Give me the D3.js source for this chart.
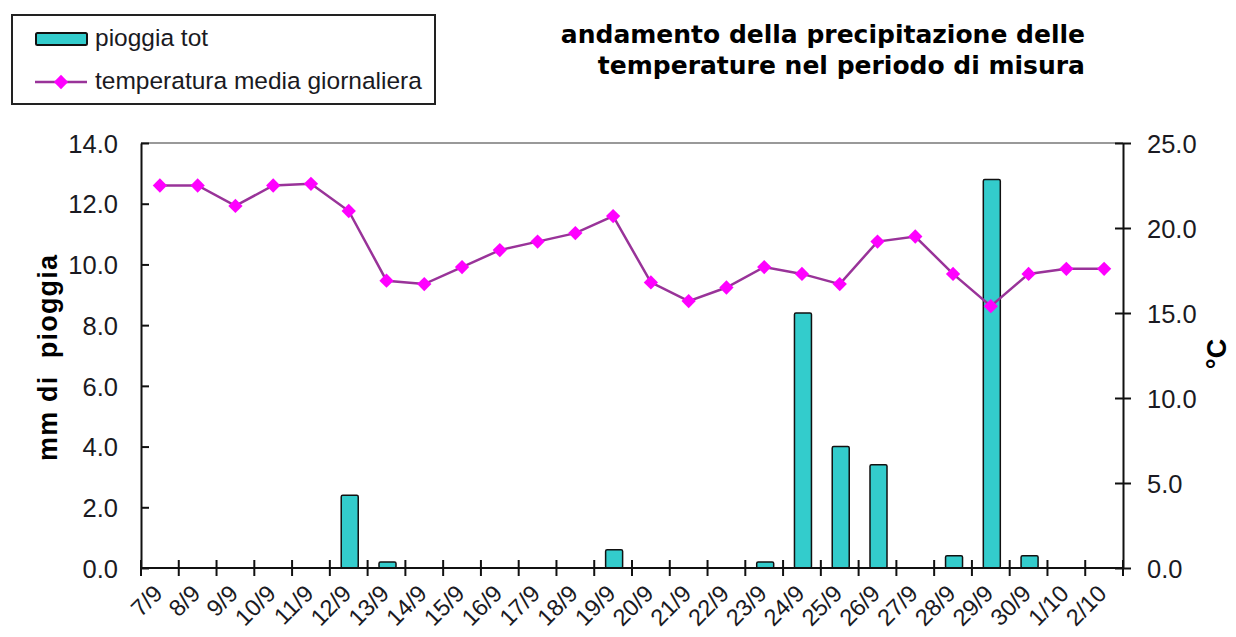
<!DOCTYPE html>
<html>
<head>
<meta charset="utf-8">
<title>pioggia e temperatura</title>
<style>
body { margin: 0; background: #fff; }
text { font-family: "Liberation Sans", Arial, sans-serif; fill: #1a1a22; }
.title { font-family: "DejaVu Sans", sans-serif; font-weight: bold; font-size: 25px; fill: #000; }
.axtitle { font-weight: bold; font-size: 27px; fill: #000; }
.tick text { font-size: 25.5px; }
</style>
</head>
<body>
<script src="https://cdn.jsdelivr.net/npm/d3@7"></script>
<script>

// days of the measuring period
var giorni = ["7/9","8/9","9/9","10/9","11/9","12/9","13/9","14/9","15/9","16/9","17/9","18/9","19/9",
              "20/9","21/9","22/9","23/9","24/9","25/9","26/9","27/9","28/9","29/9","30/9","1/10","2/10"];

// pioggia tot (mm)
var pioggia = [0,0,0,0,0,2.4,0.2,0,0,0,0,0,0.6,
               0,0,0,0.2,8.4,4.0,3.4,0,0.4,12.8,0.4,0,0];

// temperatura media giornaliera (°C)
var temperatura = [22.5,22.5,21.3,22.5,22.6,21.0,16.9,16.7,17.7,18.7,19.2,19.7,20.7,
                   16.8,15.7,16.5,17.7,17.3,16.7,19.2,19.5,17.3,15.4,17.3,17.6,17.6];

var tickPioggia = [0,2,4,6,8,10,12,14];
var tickTemp = [0,5,10,15,20,25];

var width = 1236, height = 637;
var pLeft = 141, pRight = 1123, pTop = 143, pBottom = 568;

var svg = d3.select("body").append("svg")
    .attr("width", width)
    .attr("height", height);

var x = d3.scaleBand()
    .domain(giorni)
    .range([pLeft, pRight]);

var yL = d3.scaleLinear().domain([0, 14]).range([pBottom, pTop]);
var yR = d3.scaleLinear().domain([0, 25]).range([pBottom, pTop]);

// top border of the plot area
svg.append("line")
    .attr("x1", pLeft).attr("x2", pRight)
    .attr("y1", pTop).attr("y2", pTop)
    .style("stroke", "#999").style("stroke-width", 2);

// bars
var barW = 17;
svg.append("g")
    .selectAll("rect")
    .data(pioggia.map(function(v, i) { return {g: giorni[i], v: v}; }).filter(function(d) { return d.v > 0; }))
    .enter().append("rect")
    .attr("x", function(d) { return x(d.g) + x.bandwidth() / 2 - barW / 2 + 1; })
    .attr("y", function(d) { return yL(d.v); })
    .attr("width", barW)
    .attr("height", function(d) { return pBottom - yL(d.v); })
    .attr("rx", 1.5)
    .style("fill", "#33cccc")
    .style("stroke", "#111")
    .style("stroke-width", 1.5);

// left axis
var axL = svg.append("g")
    .attr("transform", "translate(" + pLeft + ",0)")
    .call(d3.axisLeft(yL).tickValues(tickPioggia).tickFormat(d3.format(".1f")).tickSizeInner(8).tickSizeOuter(0).tickPadding(15));
axL.selectAll(".tick line").attr("x2", 8);
axL.selectAll(".tick text").attr("dy", "0.36em");

// right axis
var axR = svg.append("g")
    .attr("transform", "translate(" + pRight + ",0)")
    .call(d3.axisRight(yR).tickValues(tickTemp).tickFormat(d3.format(".1f")).tickSizeInner(8).tickSizeOuter(0).tickPadding(16));
axR.selectAll(".tick line").attr("x1", -8);
axR.selectAll(".tick text").attr("dy", "0.36em");

// category axis: ticks between days
var bounds = giorni.map(function(g) { return x(g); }).concat([pRight]);
var axX = svg.append("g");
axX.append("line")
    .attr("x1", pLeft).attr("x2", pRight)
    .attr("y1", pBottom).attr("y2", pBottom);
axX.selectAll(".xt")
    .data(bounds)
    .enter().append("line")
    .attr("class", "xt")
    .attr("x1", function(d) { return d; }).attr("x2", function(d) { return d; })
    .attr("y1", pBottom - 8).attr("y2", pBottom + 8);
axX.selectAll("line").style("stroke", "#111").style("stroke-width", 2);
axX.selectAll(".xl")
    .data(giorni)
    .enter().append("text")
    .attr("class", "xl")
    .attr("transform", function(d) {
        return "translate(" + (x(d) + x.bandwidth() / 2 + 4) + "," + 595 + ") rotate(-45)";
    })
    .style("text-anchor", "end")
    .style("font-size", "23.5px")
    .text(function(d) { return d; });

svg.selectAll(".domain").style("stroke", "#111").style("stroke-width", 2);
svg.selectAll(".tick line").style("stroke", "#111").style("stroke-width", 2);

// temperature line
var line = d3.line()
    .x(function(d, i) { return x(giorni[i]) + x.bandwidth() / 2; })
    .y(function(d) { return yR(d); });

svg.append("path")
    .datum(temperatura)
    .attr("d", line)
    .style("fill", "none")
    .style("stroke", "#993399")
    .style("stroke-width", 2.5);

var diamond = d3.symbol().type(d3.symbolDiamond2).size(130);
svg.append("g")
    .selectAll("path")
    .data(temperatura)
    .enter().append("path")
    .attr("d", diamond)
    .attr("transform", function(d, i) {
        return "translate(" + (x(giorni[i]) + x.bandwidth() / 2) + "," + yR(d) + ")";
    })
    .style("fill", "#ff00ff");

// axis titles
svg.append("text")
    .attr("class", "axtitle")
    .attr("transform", "translate(57,358) rotate(-90)")
    .style("text-anchor", "middle")
    .style("white-space", "pre")
    .attr("textLength", 206)
    .attr("lengthAdjust", "spacing")
    .text("mm di  pioggia");

svg.append("text")
    .attr("class", "axtitle")
    .attr("transform", "translate(1226,354) rotate(-90)")
    .style("text-anchor", "middle")
    .text("°C");

// title
svg.append("text").attr("class", "title")
    .attr("x", 1085).attr("y", 43)
    .style("text-anchor", "end")
    .text("andamento della precipitazione delle");
svg.append("text").attr("class", "title")
    .attr("x", 1085).attr("y", 74)
    .style("text-anchor", "end")
    .text("temperature nel periodo di misura");

// legend
var leg = svg.append("g");
leg.append("rect")
    .attr("x", 12).attr("y", 15).attr("width", 423).attr("height", 89)
    .style("fill", "#fff").style("stroke", "#222").style("stroke-width", 2);
leg.append("rect")
    .attr("x", 36).attr("y", 33).attr("width", 51).attr("height", 12)
    .attr("rx", 1.5)
    .style("fill", "#33cccc").style("stroke", "#111").style("stroke-width", 2);
leg.append("text")
    .attr("x", 95).attr("y", 46)
    .style("font-size", "24.5px")
    .text("pioggia tot");
leg.append("line")
    .attr("x1", 35).attr("x2", 87).attr("y1", 82).attr("y2", 82)
    .style("stroke", "#993399").style("stroke-width", 2.5);
leg.append("path")
    .attr("d", diamond)
    .attr("transform", "translate(61,82)")
    .style("fill", "#ff00ff");
leg.append("text")
    .attr("x", 95).attr("y", 89)
    .style("font-size", "24.5px")
    .text("temperatura media giornaliera");

</script>
</body>
</html>
